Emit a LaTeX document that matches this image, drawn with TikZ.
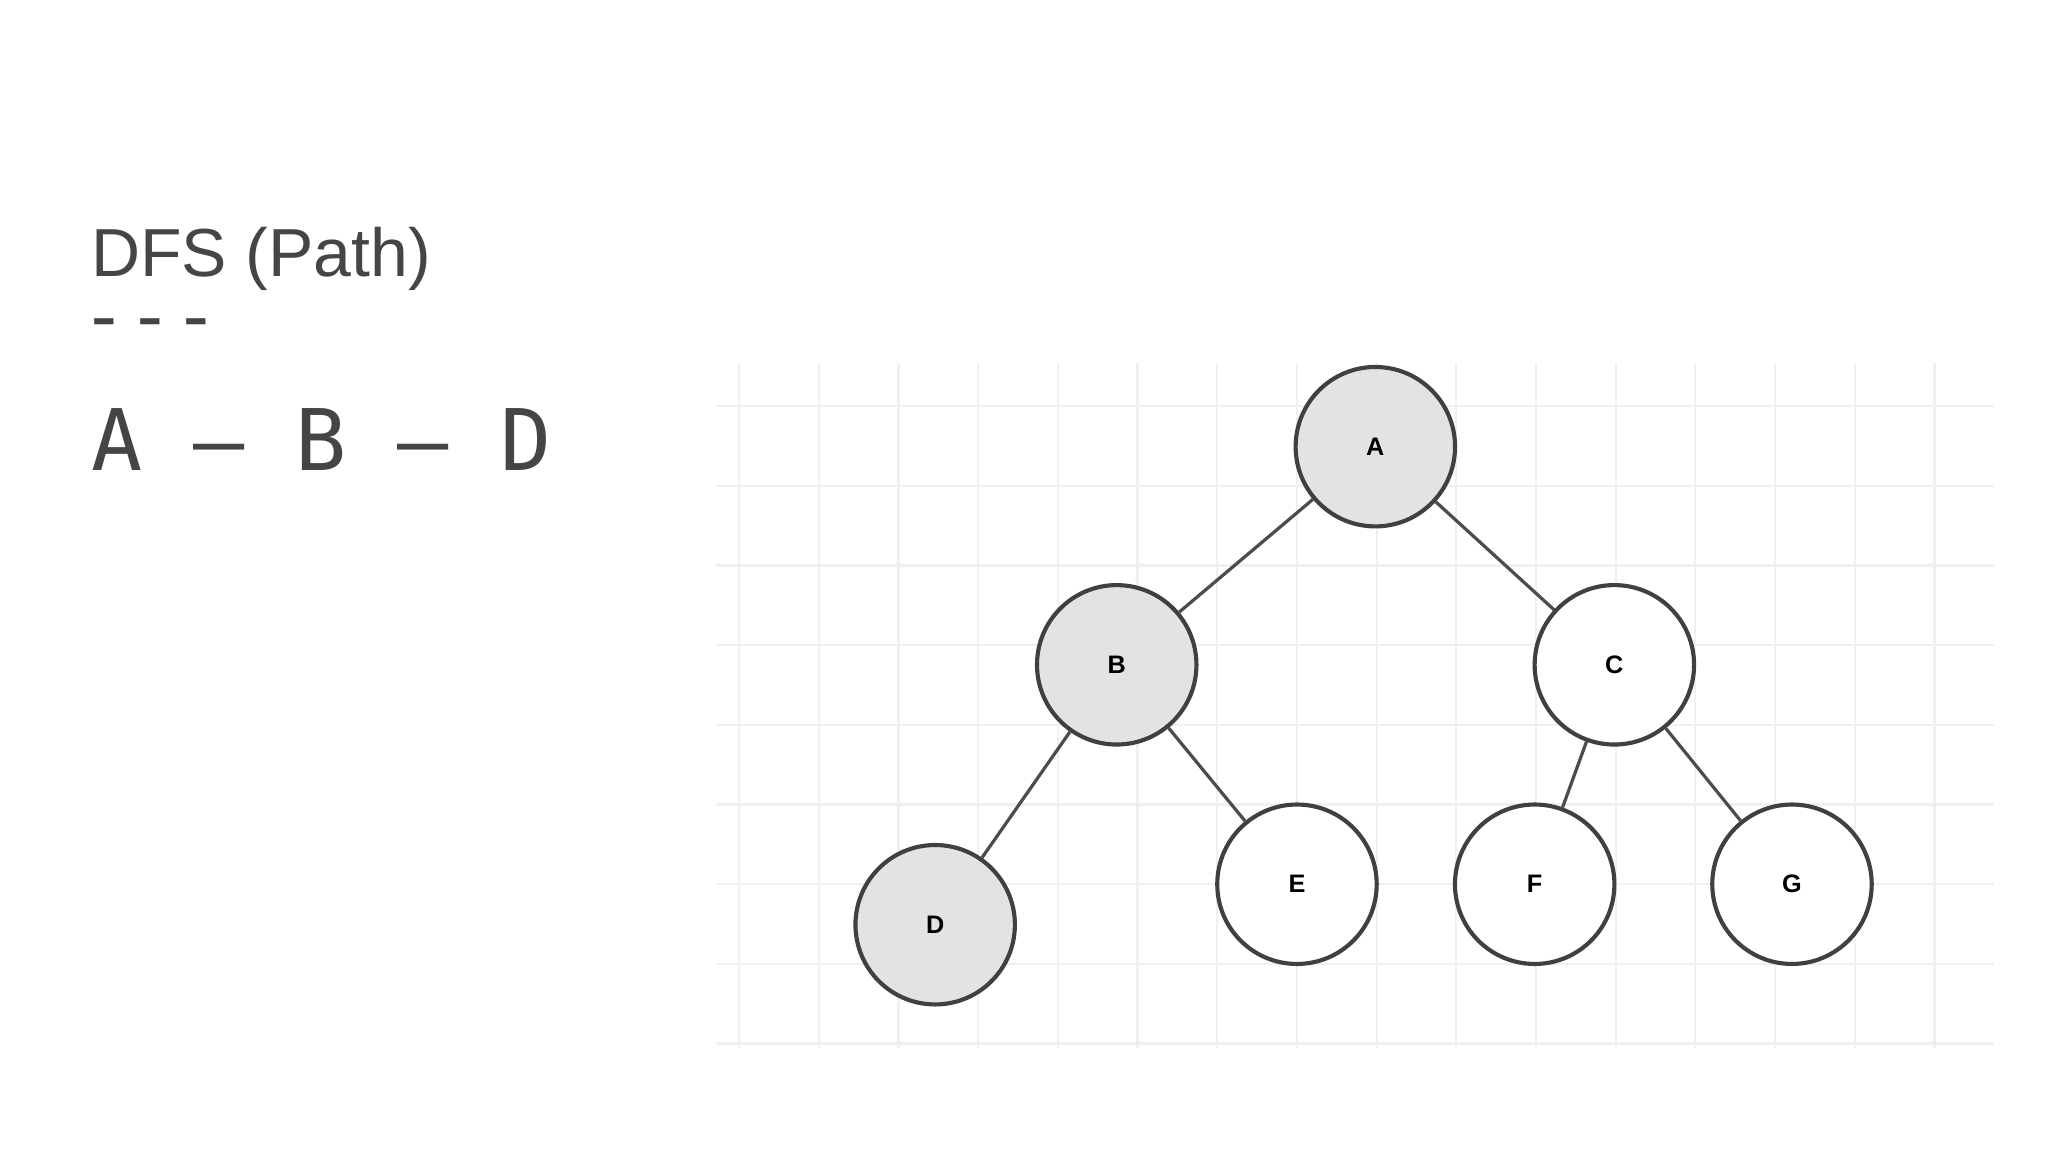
\documentclass[tikz,border=0pt]{standalone}
\usepackage{fontspec}
\setmainfont{Liberation Sans}
\newfontfamily\monof{DejaVu Sans Mono}
\begin{document}
\begin{tikzpicture}[x=0.01cm,y=-0.01cm,
  tnode/.style={circle,draw=black!75,line width=0.9pt,minimum size=1.22cm,inner sep=0pt,font=\fontsize{5.5}{6}\selectfont\bfseries},
  visited/.style={tnode,fill=black!11},
  plain/.style={tnode,fill=white},
  edge/.style={draw=black!70,line width=0.7pt}]
\useasboundingbox (0,0) rectangle (1568,882);
\fill[white] (0,0) rectangle (1568,882);
\begin{scope}
\clip (548,278) rectangle (1527,802);
\foreach \x in {566,627,688,749,810,871,932,993,1054,1115,1176,1237,1298,1359,1420,1481}
  \draw[black!6,line width=0.5pt] (\x,278) -- (\x,802);
\foreach \y in {311,372,433,494,555,616,677,738,799}
  \draw[black!6,line width=0.5pt] (548,\y) -- (1527,\y);
\end{scope}
\node[anchor=base west,text=black!73,font=\fontsize{14.8}{18}\selectfont,inner sep=0] (title) at (69,212) {DFS (Path)};
\node[anchor=base west,text=black!73,font=\monof\fontsize{16.5}{18}\selectfont,inner sep=0] (dash) at (62,262) {{-}{-}{-}};
\node[anchor=base west,text=black!73,font=\monof\fontsize{18.5}{22}\selectfont,inner sep=0] (path) at (69,360) {A – B – D};
\node[visited] (A) at (1053,342) {A};
\node[visited] (B) at (855,509) {B};
\node[plain] (C) at (1236,509) {C};
\node[visited] (D) at (716,708) {D};
\node[plain] (E) at (993,677) {E};
\node[plain] (F) at (1175,677) {F};
\node[plain] (G) at (1372,677) {G};
\draw[edge] (A) -- (B);
\draw[edge] (A) -- (C);
\draw[edge] (B) -- (D);
\draw[edge] (B) -- (E);
\draw[edge] (C) -- (F);
\draw[edge] (C) -- (G);
\end{tikzpicture}
\end{document}
